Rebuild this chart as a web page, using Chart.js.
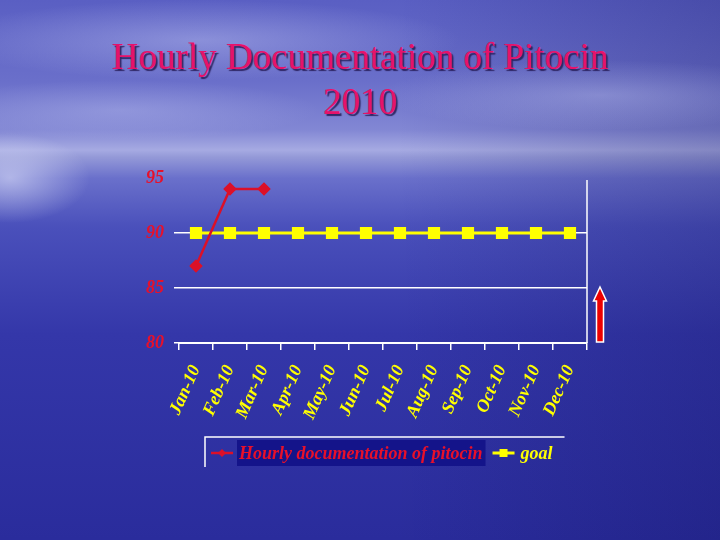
<!DOCTYPE html>
<html>
<head>
<meta charset="utf-8">
<script src="https://cdn.jsdelivr.net/npm/chart.js@4.4.1/dist/chart.umd.min.js"></script>
<style>
  html, body { margin: 0; padding: 0; }
  body {
    width: 720px; height: 540px; overflow: hidden; position: relative;
    background:
      radial-gradient(ellipse 80px 45px at 10px 178px, rgba(235,238,255,0.55), rgba(235,238,255,0) 100%),
      radial-gradient(ellipse 260px 40px at 200px 40px, rgba(200,205,245,0.4), rgba(200,205,245,0) 100%),
      radial-gradient(ellipse 220px 35px at 600px 95px, rgba(200,205,245,0.35), rgba(200,205,245,0) 100%),
      radial-gradient(ellipse 200px 30px at 120px 110px, rgba(200,205,245,0.3), rgba(200,205,245,0) 100%),
      linear-gradient(to right, rgba(0,0,0,0) 55%, rgba(10,10,80,0.22) 100%),
      linear-gradient(to bottom, #5a5fc3 0%, #6a6fca 15%, #8287d4 24%, #a6aae2 27.8%, #959ad8 29%, #6a70cb 33%, #4a50bb 42%, #3437a9 62%, #2a2c9c 100%);
  }
  #title {
    position: absolute; left: 0; top: 34px; width: 720px; text-align: center;
    font-family: "Liberation Serif", "Times New Roman", serif; font-size: 37px; line-height: 45px;
    color: #e6126a; text-shadow: 2px 2px 1px rgba(40,30,90,0.9);
  }
  canvas { position: absolute; left: 0; top: 0; }
</style>
</head>
<body>
<div id="title">Hourly Documentation of Pitocin<br>2010</div>
<canvas id="lineChart" width="720" height="540"></canvas>
<script>
var months = ['Jan-10', 'Feb-10', 'Mar-10', 'Apr-10', 'May-10', 'Jun-10', 'Jul-10', 'Aug-10', 'Sep-10', 'Oct-10', 'Nov-10', 'Dec-10']
var pitocin = [87, 94, 94, null, null, null, null, null, null, null, null, null]
var goal = [90, 90, 90, 90, 90, 90, 90, 90, 90, 90, 90, 90]
var yTicks = [80, 85, 90, 95]

var serif = '"Liberation Serif", "Times New Roman", serif'

// legend with line + marker, drawn under the axis like the original
var legendBox = {
  id: 'legendBox',
  afterDraw: function (chart) {
    var ctx = chart.ctx
    var area = chart.chartArea
    var left = area.left + 26
    var top = area.bottom + 94
    var mid = top + 16
    ctx.save()
    ctx.font = 'italic bold 18px ' + serif
    ctx.textBaseline = 'middle'
    var x = left + 6
    chart.data.datasets.forEach(function (ds, i) {
      // symbol
      ctx.strokeStyle = ds.borderColor
      ctx.lineWidth = ds.borderWidth
      ctx.beginPath()
      ctx.moveTo(x, mid)
      ctx.lineTo(x + 22, mid)
      ctx.stroke()
      ctx.fillStyle = ds.pointBackgroundColor
      if (ds.pointStyle === 'rectRot') {
        ctx.beginPath()
        ctx.moveTo(x + 11, mid - 4)
        ctx.lineTo(x + 15, mid)
        ctx.lineTo(x + 11, mid + 4)
        ctx.lineTo(x + 7, mid)
        ctx.closePath()
        ctx.fill()
      } else {
        ctx.fillRect(x + 7, mid - 4, 8, 8)
      }
      x += 28
      var w = ctx.measureText(ds.label).width
      if (i === 0) {
        ctx.fillStyle = '#14148a'
        ctx.fillRect(x - 2, top + 3, w + 5, 26)
      }
      ctx.fillStyle = ds.labelColor
      ctx.fillText(ds.label, x, mid + 1)
      x += w + 10
    })
    // frame (top and left edges show)
    ctx.strokeStyle = '#ffffff'
    ctx.lineWidth = 1.5
    ctx.beginPath()
    ctx.moveTo(left, top + 30)
    ctx.lineTo(left, top)
    ctx.lineTo(x + 2, top)
    ctx.stroke()

    // right border of the plot
    ctx.beginPath()
    ctx.moveTo(area.right, area.top + 2)
    ctx.lineTo(area.right, area.bottom)
    ctx.stroke()

    // red arrow beside the plot, from 80 up to 85
    var ys = chart.scales.y
    var ax = area.right + 13
    var tipY = ys.getPixelForValue(85) - 1
    var baseY = ys.getPixelForValue(80) - 1
    ctx.fillStyle = '#ee0000'
    ctx.strokeStyle = '#ffffff'
    ctx.lineWidth = 1.5
    ctx.beginPath()
    ctx.moveTo(ax, tipY)
    ctx.lineTo(ax + 6.5, tipY + 14)
    ctx.lineTo(ax + 3.5, tipY + 14)
    ctx.lineTo(ax + 3.5, baseY)
    ctx.lineTo(ax - 3.5, baseY)
    ctx.lineTo(ax - 3.5, tipY + 14)
    ctx.lineTo(ax - 6.5, tipY + 14)
    ctx.closePath()
    ctx.fill()
    ctx.stroke()
    ctx.restore()
  }
}

var ctx = document.getElementById('lineChart').getContext('2d')
var lineChart = new Chart(ctx, {
  type: 'line',
  data: {
    labels: months,
    datasets: [{
      label: 'Hourly documentation of pitocin',
      data: pitocin,
      borderColor: '#dc1028',
      backgroundColor: '#dc1028',
      pointBackgroundColor: '#dc1028',
      pointBorderColor: '#dc1028',
      labelColor: '#e8102a',
      borderWidth: 2.5,
      pointStyle: 'rectRot',
      pointRadius: 5,
      spanGaps: false,
      tension: 0
    }, {
      label: 'goal',
      data: goal,
      borderColor: '#ffff00',
      backgroundColor: '#ffff00',
      pointBackgroundColor: '#ffff00',
      pointBorderColor: '#ffff00',
      labelColor: '#ffff00',
      borderWidth: 3,
      pointStyle: 'rect',
      pointRadius: 6.5,
      tension: 0
    }]
  },
  options: {
    responsive: false,
    animation: false,
    layout: { padding: { left: 134, right: 133, top: 178, bottom: 117 } },
    plugins: {
      legend: { display: false },
      title: { display: false },
      tooltip: { enabled: false }
    },
    scales: {
      x: {
        offset: true,
        afterFit: function (s) { s.height = 80 },
        grid: { drawOnChartArea: false, drawTicks: true, tickLength: 7, color: '#ffffff', lineWidth: 1.5, offset: true },
        border: { display: true, color: '#ffffff', width: 2 },
        ticks: {
          color: '#ffff00',
          font: { family: serif, size: 18, style: 'italic', weight: 'bold' },
          minRotation: 66,
          maxRotation: 66,
          autoSkip: false,
          padding: 12
        }
      },
      y: {
        min: yTicks[0],
        max: yTicks[yTicks.length - 1],
        afterFit: function (s) { s.width = 45 },
        afterBuildTicks: function (s) { s.ticks = yTicks.map(function (v) { return { value: v } }) },
        grid: {
          drawTicks: true,
          tickLength: 5,
          lineWidth: 1.5,
          color: function (c) { return c.tick && c.tick.value === 95 ? 'rgba(0,0,0,0)' : '#ffffff' }
        },
        border: { display: false },
        ticks: {
          color: '#e8102a',
          font: { family: serif, size: 18, style: 'italic', weight: 'bold' },
          padding: 10
        }
      }
    }
  },
  plugins: [legendBox]
})
</script>
</body>
</html>
